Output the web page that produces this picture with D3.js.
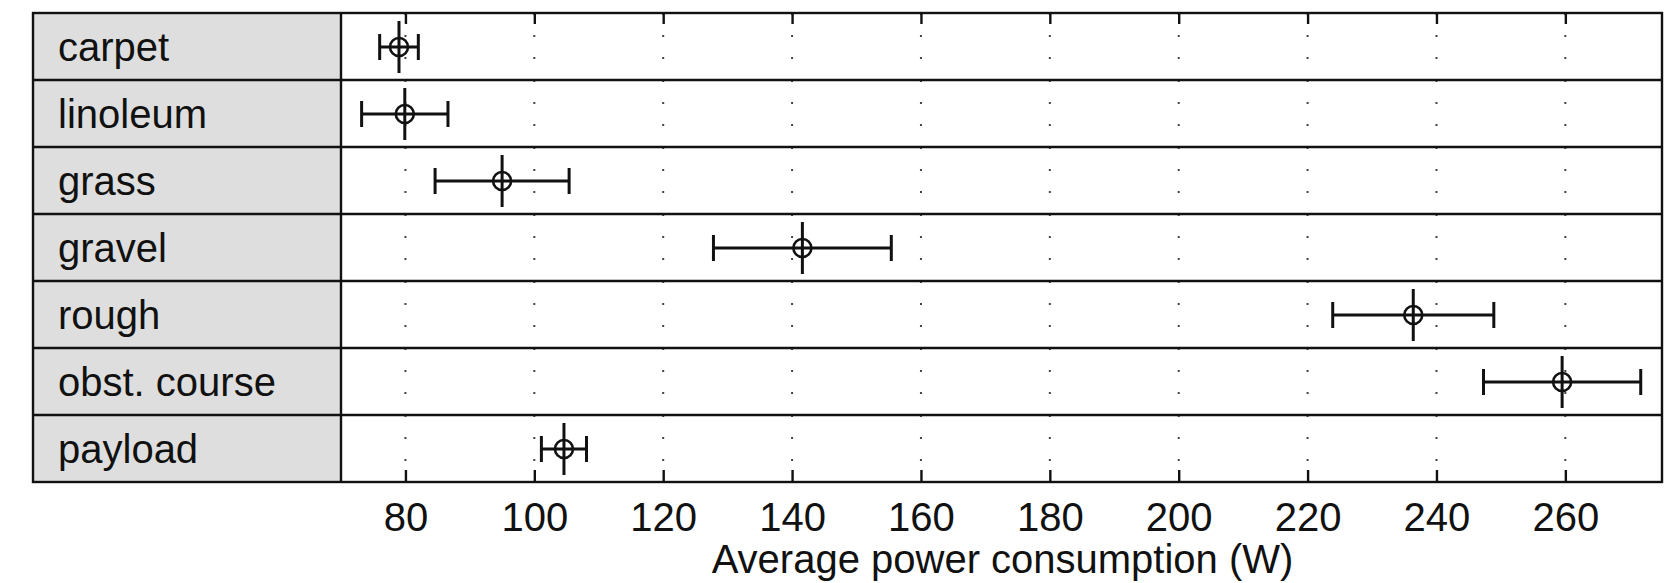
<!DOCTYPE html>
<html>
<head>
<meta charset="utf-8">
<script src="https://cdn.jsdelivr.net/npm/d3@7/dist/d3.min.js"></script>
<style>
  html, body { margin: 0; padding: 0; background: #fff; }
  svg { display: block; }
  text { font-family: "Liberation Sans", Arial, Helvetica, sans-serif; fill: #111; }
</style>
</head>
<body>
<svg id="chart" width="1671" height="583"></svg>
<script>
// ---- data ----
const categories = ["carpet", "linoleum", "grass", "gravel", "rough", "obst. course", "payload"];
const means = [79.0, 79.9, 95.0, 141.6, 236.4, 259.5, 104.6];
const errors = [3.0, 6.7, 10.4, 13.8, 12.5, 12.2, 3.5];
const tickValues = [80, 100, 120, 140, 160, 180, 200, 220, 240, 260];
const xDomain = [70, 275];
const xTitle = "Average power consumption (W)";

// ---- layout ----
const outerLeft = 33, panelLeft = 341, plotRight = 1662, plotTop = 13, plotBottom = 482;
const svg = d3.select("#chart");

const x = d3.scaleLinear().domain(xDomain).range([panelLeft, plotRight]);
const y = d3.scaleBand().domain(categories).range([plotTop, plotBottom]).padding(0);
const rowH = y.bandwidth();

// gray label cells
svg.append("g").selectAll("rect").data(categories).join("rect")
  .attr("x", outerLeft).attr("y", d => y(d))
  .attr("width", panelLeft - outerLeft).attr("height", rowH)
  .attr("fill", "#dedede");

// labels
svg.append("g").selectAll("text").data(categories).join("text")
  .attr("x", outerLeft + 25)
  .attr("y", d => y(d) + rowH / 2)
  .attr("dy", "0.37em")
  .attr("font-size", 40)
  .text(d => d);

// dotted grid per row
const grid = svg.append("g");
categories.forEach(c => {
  grid.append("g").selectAll("line").data(tickValues).join("line")
    .attr("x1", d => x(d)).attr("x2", d => x(d))
    .attr("y1", y(c)).attr("y2", y(c) + rowH)
    .attr("stroke", "#444").attr("stroke-width", 2)
    .attr("stroke-dasharray", "2,20");
});

// bottom axis
const axB = svg.append("g").attr("transform", `translate(0,${plotBottom})`)
  .call(d3.axisBottom(x).tickValues(tickValues).tickSize(-12).tickPadding(21).tickFormat(d3.format("d")));
axB.select(".domain").remove();
axB.selectAll(".tick line").attr("stroke", "#111").attr("stroke-width", 2.4);
axB.selectAll(".tick text").attr("font-size", 40).attr("font-family", "Liberation Sans, Arial, sans-serif").attr("fill", "#111");

// top axis (ticks only)
const axT = svg.append("g").attr("transform", `translate(0,${plotTop})`)
  .call(d3.axisTop(x).tickValues(tickValues).tickSize(-11).tickFormat(""));
axT.select(".domain").remove();
axT.selectAll(".tick line").attr("stroke", "#111").attr("stroke-width", 2.4);

// row dividers
svg.append("g").selectAll("line").data(categories.slice(1)).join("line")
  .attr("x1", outerLeft).attr("x2", plotRight)
  .attr("y1", d => y(d)).attr("y2", d => y(d))
  .attr("stroke", "#111").attr("stroke-width", 2.4);

// vertical divider & frame
svg.append("line").attr("x1", panelLeft).attr("x2", panelLeft).attr("y1", plotTop).attr("y2", plotBottom)
  .attr("stroke", "#111").attr("stroke-width", 2.4);
svg.append("rect").attr("x", outerLeft).attr("y", plotTop)
  .attr("width", plotRight - outerLeft).attr("height", plotBottom - plotTop)
  .attr("fill", "none").attr("stroke", "#111").attr("stroke-width", 2.4);

// error bars
const eb = svg.append("g").attr("stroke", "#111").attr("fill", "none");
categories.forEach((c, i) => {
  const cy = y(c) + rowH / 2 + 0.5;
  const m = means[i], e = errors[i];
  const g = eb.append("g");
  g.append("line").attr("x1", x(m - e)).attr("x2", x(m + e)).attr("y1", cy).attr("y2", cy).attr("stroke-width", 3);
  g.append("line").attr("x1", x(m - e)).attr("x2", x(m - e)).attr("y1", cy - 13).attr("y2", cy + 13).attr("stroke-width", 3);
  g.append("line").attr("x1", x(m + e)).attr("x2", x(m + e)).attr("y1", cy - 13).attr("y2", cy + 13).attr("stroke-width", 3);
  g.append("line").attr("x1", x(m)).attr("x2", x(m)).attr("y1", cy - 26).attr("y2", cy + 26).attr("stroke-width", 3);
  g.append("circle").attr("cx", x(m)).attr("cy", cy).attr("r", 9).attr("stroke-width", 2.6);
});

// x title
svg.append("text")
  .attr("x", (panelLeft + plotRight) / 2 + 1).attr("y", 573)
  .attr("text-anchor", "middle").attr("font-size", 40)
  .text(xTitle);
</script>
</body>
</html>
